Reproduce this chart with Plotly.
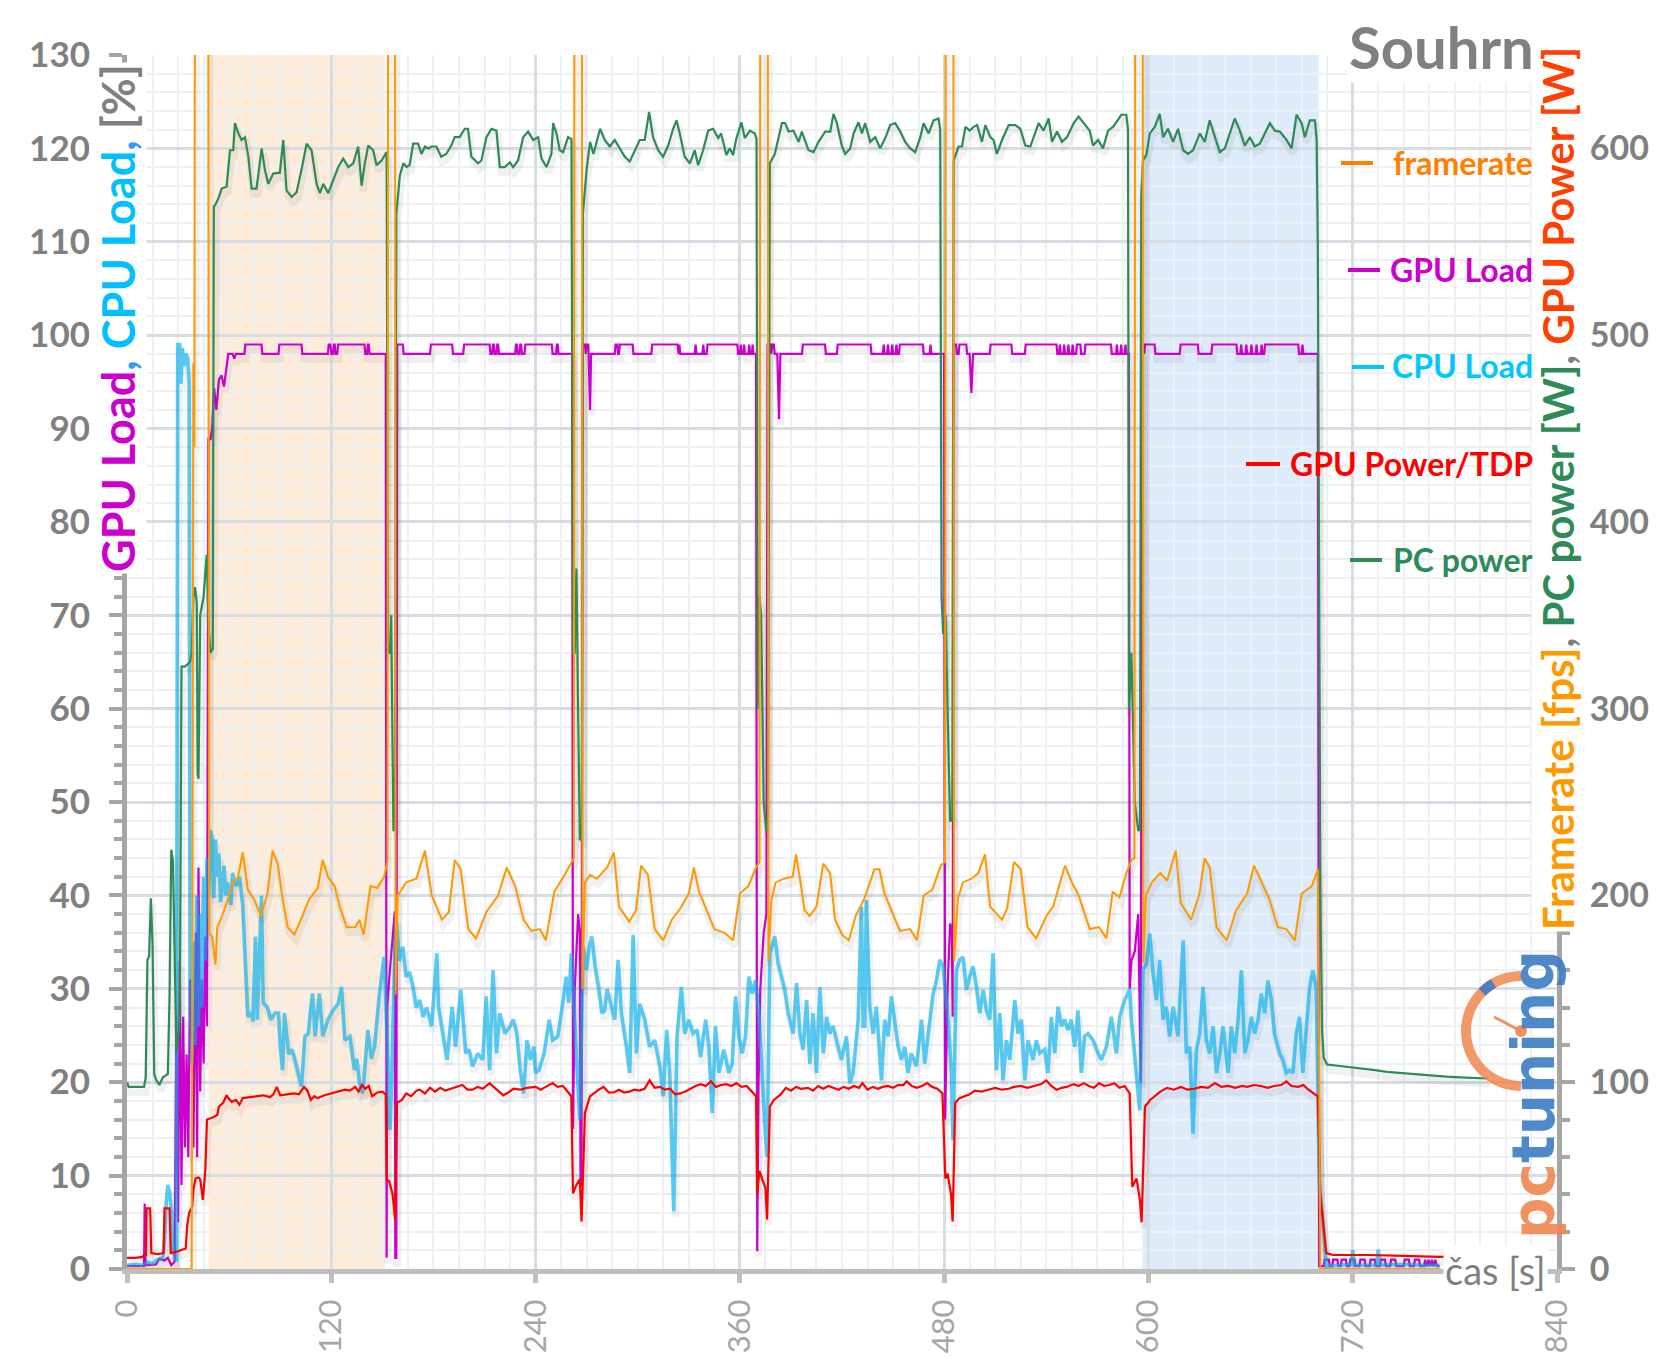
import math
import plotly.graph_objects as go

# ---------------- data (time [s], value) ----------------
framerate_points = [
    (0, 0), (37, 0), (38, 0), (39, 485), (39.6, 440), (40.3, 1000), (47.5, 1000), (48.2, 180), (50, 178),
    (52, 163), (53, 183), (55, 187), (58.6, 196), (62.6, 208), (65, 209), (68, 223), (71, 203), (74.6, 198),
    (78.6, 189), (82.5, 201), (85.5, 224), (88.5, 217), (91.4, 198), (94.4, 183), (98.3, 179), (103, 189),
    (107, 198), (112, 204), (115, 219), (118, 210), (122, 205), (125, 194), (129, 183), (134, 183), (136.5, 187),
    (139, 179), (143, 205), (147, 204), (151, 210), (153, 218), (153.6, 1000), (157.2, 1000), (157.8, 147),
    (159, 200), (164, 207), (170, 209), (175, 224), (179, 200), (185, 187), (189, 191), (192.5, 219), (196, 214),
    (200.5, 182), (205, 177), (211, 191), (218, 200), (223, 215), (228, 205), (233, 187), (237.5, 181),
    (242.5, 182), (246, 176), (251, 202), (257, 211), (261, 217), (262.5, 220), (263, 1000), (267, 1000),
    (267.6, 150), (269, 207), (272, 211), (276, 209), (279, 212), (282, 215), (286, 223), (289, 194), (295, 186),
    (299, 192), (302, 216), (306, 211), (310, 182), (315, 176), (320, 187), (325, 193), (330, 201), (333, 215),
    (336, 202), (341, 191), (345, 182), (351, 180), (356, 176), (360, 201), (365, 205), (369, 214), (371.5, 218),
    (372.3, 1000), (376.2, 1000), (376.8, 165), (378.5, 197), (381, 207), (386, 209), (391, 210), (393, 222),
    (396, 205), (398, 192), (401, 189), (405, 194), (409, 217), (413, 212), (416, 187), (420, 179), (424, 176),
    (428, 189), (433, 198), (439, 214), (442, 214), (445, 201), (449, 192), (454, 181), (460, 182), (464, 176),
    (468, 200), (473, 203), (478, 216), (480.5, 218), (481.3, 1000), (485.2, 1000), (485.8, 165), (488, 198),
    (491, 207), (496, 209), (500, 212), (504, 222), (507, 194), (514, 187), (517, 193), (521, 218), (525, 214),
    (529, 183), (534, 177), (540, 189), (544, 194), (548, 207), (551, 216), (555, 207), (559, 200), (565.5, 182),
    (571, 183), (575.3, 177), (579, 202), (583, 199), (587, 212), (590, 219), (591.8, 220), (592.5, 1000),
    (596.4, 1000), (597, 164), (598.5, 200), (602, 207), (607, 212), (611, 208), (616, 224), (619, 196),
    (625, 187), (630, 201), (633, 220), (636, 215), (640, 183), (646, 176), (651.5, 192), (658, 201), (662, 216),
    (666, 208), (671, 198), (676, 183), (681, 182), (686, 176), (690, 201), (696, 205), (699.5, 214), (701, 0),
    (771, 0),
]

gpu_load_points = [
    (0, 0.3), (10, 0.3), (10.4, 7), (10.9, 0.4), (17, 0.5), (19, 1.1), (22, 0.9), (24, 1.2), (26, 0.4), (28, 0.8),
    (29, 27), (30, 5), (31, 33), (32, 9), (33, 27), (34, 13), (35, 23), (36, 12), (37, 31), (38, 25), (39, 13),
    (40.5, 36), (41.2, 12), (42, 43), (43, 19), (44, 31), (45, 22), (46, 35.6), (47, 26), (47.8, 89), (49, 88.8),
    (50, 90), (51.2, 94.3), (52.5, 92), (54, 95.2), (55.5, 95.7), (57, 94.5), (59.5, 98), (62, 98), (63, 97.5),
    (64, 98), (69, 98), (69.5, 99), (79, 99), (79.5, 98), (89, 98), (89.5, 99), (102.5, 99), (103, 98), (118, 98),
    (118.5, 99), (119.5, 99), (120, 98), (121, 98), (121.5, 99), (122, 99), (122.5, 98), (123.5, 98), (124, 99),
    (139.5, 99), (140, 98), (141, 98), (141.5, 99), (142, 99), (142.5, 98), (152, 98), (152.5, 1.2), (152.9, 28),
    (154, 31), (156, 36), (157.3, 38.3), (157.6, 1.2), (158.2, 1.2), (158.7, 99), (162, 99), (162.5, 98),
    (178, 98), (178.5, 99), (191, 99), (191.5, 98), (197.5, 98), (198, 99), (213, 99), (213.5, 98), (214.5, 98),
    (215, 99), (215.5, 99), (216, 98), (217, 98), (217.5, 99), (218, 99), (218.5, 98), (228, 98), (228.5, 99),
    (229, 99), (229.5, 98), (230.5, 98), (231, 99), (231.5, 99), (232, 98), (233.5, 98), (234, 99), (249.5, 99),
    (250, 98), (252, 98), (252.5, 99), (253, 99), (253.5, 98), (261.5, 98), (262, 15), (263, 30), (265, 38),
    (266, 36), (266.4, 9), (267, 9), (267.6, 99), (269, 99), (269.5, 98), (270, 99), (271, 99), (272, 92),
    (272.6, 98), (286.5, 98), (287, 99), (288, 99), (288.5, 98), (289, 98), (289.5, 99), (297, 99), (297.5, 98),
    (308, 98), (308.5, 99), (323.5, 99), (324, 98), (324.5, 99), (325, 98), (333.5, 98), (334, 99), (334.5, 98),
    (338, 98), (338.5, 99), (339, 98), (340.5, 98), (341, 99), (358.5, 99), (359, 98), (360, 98), (360.5, 99),
    (361, 98), (362, 98), (362.5, 99), (363, 98), (365, 98), (365.5, 99), (366, 98), (367, 98), (367.5, 99),
    (368, 98), (369.5, 98), (370.2, 1.9), (371, 20), (372, 30), (374, 36), (375.6, 38), (376.3, 99), (378, 99),
    (378.5, 98), (379, 99), (380, 99), (380.5, 98), (382, 98), (383, 91), (383.8, 98), (396.5, 98), (397, 99),
    (410, 99), (410.5, 98), (417, 98), (417.5, 99), (436.8, 99), (437.3, 98), (444, 98), (444.5, 99), (445, 98),
    (446.5, 98), (447, 99), (447.5, 98), (449, 98), (449.5, 99), (450, 98), (451.5, 98), (452, 99), (452.5, 98),
    (453.5, 98), (454, 99), (467.5, 99), (468, 98), (471.5, 98), (472, 99), (472.5, 98), (480, 98), (480.6, 16),
    (482, 30), (483.5, 37), (484.5, 36), (485, 27), (485.6, 99), (487, 99), (487.5, 98), (488.5, 98), (489, 99),
    (493, 99), (493.5, 98), (495, 98), (496, 93.8), (497, 98), (506.8, 98), (507.3, 99), (519.5, 99), (520, 98),
    (527.4, 98), (527.9, 99), (546, 99), (546.5, 98), (547.5, 98), (548, 99), (548.5, 98), (550, 98), (550.5, 99),
    (551, 98), (552.5, 98), (553, 99), (553.5, 98), (555, 98), (555.5, 99), (556, 98), (557.5, 98), (558, 99),
    (560, 99), (560.5, 98), (562.5, 98), (563, 99), (578, 99), (578.5, 98), (581, 98), (581.5, 99), (582, 98),
    (583.5, 98), (584, 99), (584.5, 98), (586, 98), (586.5, 99), (587, 98), (588.5, 98), (589, 30), (590, 33),
    (592, 34), (594, 38), (595.5, 20), (596.2, 99), (597, 99), (597.5, 98), (598, 99), (603.6, 99), (604.1, 98),
    (618.4, 98), (618.9, 99), (629, 99), (629.5, 98), (637, 98), (637.5, 99), (651.7, 99), (652.2, 98), (654, 98),
    (654.5, 99), (655, 98), (657, 98), (657.5, 99), (658, 98), (660, 98), (660.5, 99), (661, 98), (663, 98),
    (663.5, 99), (664, 98), (666, 98), (666.5, 99), (667, 98), (668, 98), (668.5, 99), (672, 99), (688, 99),
    (688.5, 98), (690, 98), (690.5, 99), (691, 98), (699.5, 98), (700.3, 0.3), (703, 0.3), (703.5, 1), (706, 1),
    (706.5, 0.3), (708, 0.3), (708.5, 1), (711, 1), (711.5, 0.3), (713, 0.3), (713.5, 1), (716, 1), (716.5, 0.3),
    (718, 0.3), (718.5, 1), (721, 1), (721.5, 0.3), (724, 0.3), (724.5, 1), (727, 1), (727.5, 0.3), (730, 0.3),
    (730.5, 1), (733, 1), (733.5, 0.3), (736, 0.3), (736.5, 1), (739, 1), (739.5, 0.3), (742, 0.3), (742.5, 1),
    (745, 1), (745.5, 0.3), (750, 0.3), (750.5, 1), (753, 1), (753.5, 0.3), (756, 0.3), (756.5, 1), (759, 1),
    (759.5, 0.3), (762, 0.3), (762.5, 1), (763.5, 0.3), (764.5, 1), (765.5, 0.3), (766.5, 1), (767.5, 0.3),
    (768.5, 1), (769.5, 0.3), (771, 0.3),
]

cpu_load_points = [
    (0, 0.4), (5, 0.5), (9, 0.4), (12, 0.7), (15, 0.6), (18, 1), (21, 1.2), (22, 3), (23, 7), (24, 9), (25, 8.2),
    (26, 6.5), (27, 2), (29, 0.8), (29.8, 99), (31, 99), (31.7, 94.8), (32.5, 98.6), (33.7, 96.7), (34.6, 98),
    (35.6, 97.6), (36.5, 95), (37, 30), (38, 22), (39, 35), (40, 24), (41, 40), (42, 26), (43, 38), (44, 28),
    (45, 42), (46, 33), (47, 44), (48, 40), (49, 47), (50, 46), (51, 39.7), (52, 46), (53, 42), (54, 44.5),
    (55, 39.3), (57, 43.2), (58, 40), (59, 41.4), (61, 39), (62, 42.4), (64, 41), (66, 42), (68, 39.1),
    (70.2, 30), (71, 27), (73, 27.5), (74, 26.5), (75.5, 35.6), (76.5, 26.7), (77.5, 31.7), (79, 40), (80, 28.5),
    (82.5, 28), (84.5, 26.7), (87, 27.4), (89, 27.4), (90, 24), (91.4, 21.3), (92.5, 27.4), (95, 23), (97, 23.5),
    (98.6, 22.4), (100.5, 21), (102.5, 19.5), (104.5, 24.9), (106.5, 25.2), (108, 28), (109, 29.5), (110.5, 24.9),
    (113, 29.5), (115, 24.9), (118, 26.7), (121, 27.7), (124, 28.4), (126, 30.2), (128, 24.5), (131, 24.9),
    (133.6, 21.3), (135, 22.5), (136.6, 19.9), (138.5, 18.8), (141.5, 25.6), (143.5, 22.5), (145.4, 23.8),
    (148.3, 29.5), (151, 33.4), (152.5, 26.7), (154.5, 14.9), (155.5, 20), (157.3, 34.5), (158.2, 37.5),
    (160, 33), (162, 34.5), (164, 31.3), (166, 31.8), (168, 30.2), (170, 28), (172, 28.8), (174, 27), (176, 28),
    (179, 26), (182, 33.8), (183, 28.1), (186, 24.9), (188, 22.4), (191, 28.1), (193, 23.8), (196, 29.9),
    (199, 23.1), (201, 23.5), (203, 21.7), (206, 23.1), (209, 22.4), (211, 29.2), (213, 21.3), (215, 32),
    (217, 23.1), (219, 27.4), (222, 25.2), (225, 26), (227, 26.7), (229, 25.2), (231, 21.3), (233, 18.8),
    (235, 24.5), (237, 22.4), (239, 23.8), (240, 21), (242, 21.3), (245, 23.1), (248, 26.7), (250, 24.5),
    (253, 24.9), (256, 28.5), (258, 31.3), (259.5, 28.5), (261, 33.8), (263, 26.7), (266, 16), (268, 34.5),
    (270, 32), (271.5, 34.5), (273, 35.6), (275, 32.4), (277, 30.2), (279, 27.4), (280.6, 27.7), (282, 30),
    (283.6, 28.8), (286.5, 26.7), (288.5, 33.1), (290.4, 27.4), (293.4, 23.8), (295.3, 21), (297.3, 35.8),
    (299.2, 23.1), (301.2, 28.4), (304.1, 26.7), (307, 23.8), (310, 24.5), (313, 21.7), (315, 18.5), (317, 25.6),
    (318.8, 21), (321.2, 6.2), (323.1, 24.9), (325.6, 30.2), (327.6, 25.2), (330, 26.7), (332.5, 25.2),
    (335, 25.6), (336.9, 22.7), (339.9, 26.7), (341.8, 23.8), (343.8, 16.7), (345.7, 26), (347.7, 21),
    (350.6, 23.5), (353.5, 21), (355.5, 22), (357.5, 29.2), (359.4, 24.9), (361.4, 23.1), (363.3, 24.9),
    (365.3, 31.3), (367.3, 29.5), (369.2, 30.9), (371.2, 27.4), (374.5, 16), (376, 12), (377.6, 33.8),
    (380.5, 35.6), (382.5, 32.7), (384.5, 31.3), (386.4, 29.9), (388.4, 27.4), (391.3, 25.2), (393.3, 30.6),
    (395.3, 25.2), (397.2, 23.5), (399.2, 28.8), (401.1, 22), (403, 27.4), (405, 21), (407, 30.2), (409, 23.1),
    (411, 27), (412.8, 25.2), (414.8, 26), (417.7, 23.8), (419.7, 22.4), (422.6, 24.9), (424.6, 19.9),
    (426.5, 21), (429.5, 26.7), (431.4, 38.8), (432.4, 26), (433.4, 26), (434.3, 39.5), (436.3, 28.1),
    (438.3, 25.2), (440.2, 28.1), (443.2, 20.2), (445.1, 26.7), (447.1, 24.9), (449, 29.2), (451, 26.7),
    (453, 23.8), (454.9, 22.4), (456.9, 23.8), (458.8, 21), (460.8, 23.1), (463.7, 21.7), (466.7, 26.7),
    (468.6, 22), (470.6, 25.2), (473.5, 29.5), (475.5, 30.9), (477.4, 33.1), (479.4, 32.4), (482.3, 26.7),
    (484.3, 21), (485.2, 13.8), (487.2, 32), (489.2, 33.1), (491.1, 33.4), (493.1, 29.9), (495, 31.3),
    (497, 32.4), (499, 30.2), (500.9, 27.4), (502.9, 29.9), (504.8, 27.7), (506.8, 26.7), (508.7, 33.8),
    (510.7, 21.3), (512.7, 27.4), (514.6, 20.2), (516.6, 24.5), (518.5, 22.4), (521.5, 28.8), (523.4, 25.2),
    (525.4, 26.7), (527.4, 20.2), (529.3, 24.5), (532.2, 22.4), (534.2, 24.5), (536.1, 23.1), (539, 23.5),
    (541, 21), (543, 27), (545, 23.1), (546.9, 28.1), (548.9, 26), (550.8, 26.7), (552.8, 25.6), (554.7, 26.7),
    (556.7, 23.8), (558.6, 27.7), (560.6, 21), (562.5, 24.9), (564.5, 25.2), (567.5, 24.5), (570.4, 23.1),
    (572.3, 22.4), (575.3, 23.8), (578.2, 27), (581.2, 23.1), (583.1, 27), (586, 28.8), (589, 29.9), (590, 26.7),
    (592.9, 21), (594.9, 17), (596.8, 32), (598.8, 32.7), (600.8, 35.9), (602.7, 31.7), (604.7, 28.8),
    (606.6, 33.1), (608.6, 26.7), (610.5, 28.1), (612.5, 24.9), (614.5, 28.1), (617.4, 24.9), (620.4, 35.2),
    (622.3, 23.1), (624.3, 23.8), (626.2, 14.5), (628.2, 23.5), (630.1, 25.2), (632.1, 30.2), (634, 24.5),
    (636, 23.1), (638, 26), (640, 21), (642, 23.1), (643.8, 26), (646.8, 21), (648.7, 26), (650.7, 23.1),
    (652.7, 26.7), (654.6, 32), (656.6, 23.1), (658.5, 24.5), (660.5, 27), (662.4, 25.2), (664.4, 26.7),
    (666.3, 29.5), (668.3, 27.4), (670.2, 30.9), (672.2, 28.8), (674.1, 25.2), (677, 23.1), (679, 22.4),
    (681, 21), (683, 21.3), (684.9, 21), (686.8, 25.2), (688.8, 27), (690.7, 21), (692.7, 26), (694.7, 30.2),
    (696.6, 32), (698.6, 29.9), (700.5, 8.8), (702.5, 5.3), (704.4, 0.3), (715, 0.4), (719, 0.5), (720, 2),
    (721, 0.4), (734, 0.4), (735, 2.1), (736, 0.4), (750, 0.5), (760, 0.4), (771, 0.4),
]

gpu_power_points = [
    (0, 6), (5, 6), (9, 6.5), (10, 7.5), (11.2, 7.5), (11.5, 32.5), (13.6, 32.5), (14.3, 8.5), (18, 8),
    (21.5, 8.5), (22, 32.5), (25, 32.5), (25.7, 8.5), (30, 9.5), (34.5, 11), (35.4, 23.5), (36.5, 30),
    (38.3, 33.5), (39, 42.5), (40.3, 48.5), (42, 49), (43, 48), (44.6, 37), (46, 53), (47, 80), (50, 81),
    (53, 82.5), (54, 87), (56.5, 89), (58.5, 93), (60, 91), (61.5, 89.5), (64, 90.5), (66, 88), (68, 91.5),
    (72, 92), (76, 92.5), (80, 93), (84, 92), (86, 93.5), (88, 97.5), (90, 93), (94, 93.5), (98, 94), (101, 93.5),
    (104, 97.5), (106, 95.5), (108, 90.5), (110, 92.5), (112, 91.5), (116, 93), (120, 94), (124, 95), (128, 96),
    (131, 95.5), (134, 97.5), (136, 95), (138, 98.5), (140, 96.5), (142, 98), (144, 92.5), (147, 94.5), (150, 95),
    (152, 93.5), (152.6, 48), (154, 47), (156, 40), (157.5, 26.5), (158.6, 89), (161.5, 90.5), (164, 94),
    (167, 92.5), (170, 95.5), (172, 96), (175, 94), (178, 97), (181, 95), (184, 97), (187, 95.5), (190, 96.5),
    (194, 97.5), (197, 98.5), (200, 96), (203, 96), (206, 97.5), (209, 96.5), (213, 99.5), (216, 97), (219, 95),
    (221, 93), (224, 94.5), (227, 96.5), (231, 96), (235, 97), (240, 97.5), (243, 96), (246, 97.5), (250, 99.5),
    (253, 97.5), (256, 98), (258, 96), (261, 92.5), (262, 40.5), (264, 45), (266, 48), (267, 25.5), (269, 83.5),
    (272, 92.5), (275, 94.5), (277, 96), (280, 97.5), (283, 94.5), (286, 94.5), (289, 96), (292, 94.5), (295, 95),
    (298, 96), (301, 95.5), (304, 96.5), (307, 101), (310, 97), (313, 97.5), (316, 96), (319, 96.5), (322, 93.5),
    (325, 94), (328, 95), (331, 96.5), (334, 98), (337, 99), (340, 98), (343, 100.5), (346, 97.5), (349, 98.5),
    (352, 99), (355, 98), (358, 99.5), (361, 97.5), (364, 98), (367, 95), (369.5, 92.5), (370.2, 40.5),
    (371.5, 52.5), (373, 48.5), (375, 43.5), (376, 26.5), (377.6, 87), (380, 90.5), (384, 93.5), (387, 97),
    (390, 95.5), (393, 97.5), (396, 96.5), (400, 97), (403, 95.5), (406, 98), (409, 96.5), (412, 98), (415, 97),
    (418, 96), (421, 97.5), (424, 96.5), (427, 98), (430, 97), (432, 99.5), (435, 96), (438, 97.5), (441, 96.5),
    (444, 97.5), (447, 98), (450, 97), (453, 98.5), (456, 98.5), (458, 100.5), (461, 98), (464, 97), (467, 98),
    (470, 99.5), (473, 97.5), (476, 96.5), (479, 94), (480.7, 48.5), (482, 51), (484, 40.5), (485, 25.5),
    (486.5, 89), (489, 91.5), (492, 92.5), (495, 93.5), (498, 95.5), (502, 95), (506, 96), (510, 97), (514, 96),
    (518, 96.5), (521, 97.5), (525, 98), (529, 97), (533, 98), (537, 99), (540, 101), (543, 98), (546, 96),
    (549, 97), (552, 97.5), (556, 99), (559, 98), (562, 99.5), (565, 98), (568, 97), (571, 99.5), (574, 98),
    (577, 98.5), (580, 99.5), (583, 97), (586, 98), (589, 94), (590.5, 44), (593, 48.5), (595, 37), (596, 25),
    (598, 87), (601, 90.5), (604, 93), (607, 95), (611, 97), (615, 96), (619, 97.5), (623, 96), (627, 96.5),
    (631, 97.5), (635, 97), (639, 99.5), (643, 97.5), (647, 98), (651, 97), (655, 98), (658, 97.5), (662, 98.5),
    (666, 98), (670, 97), (674, 98), (678, 98.5), (681, 100.5), (684, 98), (688, 97.5), (691, 98.5), (694, 96),
    (697, 94), (699.5, 92.5), (701, 39), (702.5, 26.5), (704.5, 8.5), (708.5, 7.5), (730, 7.5), (750, 7),
    (771, 6.5), (785, 7), (799, 6.75),
]

pc_power_points = [
    (0, 100), (1, 97.5), (10, 97.5), (11, 102.5), (12, 165.5), (13, 167.5), (14, 198.5), (15, 174), (16, 104.5),
    (17, 101.5), (19, 98.5), (21, 102.5), (24, 104.5), (25, 146), (26, 224.5), (27, 218.5), (29, 116.5),
    (30, 124.5), (31, 132.5), (32, 322.5), (34, 322.5), (37, 325), (38, 330), (39, 360), (40, 365), (41, 356),
    (41.5, 265), (42, 262.5), (43, 350), (45, 360), (46.8, 382.5), (48, 343), (49, 330), (50.4, 332), (51, 569),
    (51.7, 569.5), (53.6, 573), (55.6, 578.5), (58.5, 579.5), (60.5, 599), (62.4, 599), (63.4, 613.5),
    (65.4, 608), (67.3, 604.5), (69.3, 606), (71.3, 595.5), (73.2, 578.5), (76.1, 578.5), (79.1, 600),
    (81, 588.5), (83, 581), (85.9, 586.5), (89.8, 587), (91.8, 604.5), (93.7, 577.5), (96.7, 574), (99.6, 576.5),
    (102.5, 588.5), (105.5, 602.5), (108.4, 599), (111.4, 581), (113.3, 576), (115.3, 581), (118.2, 576),
    (121.2, 583), (124.1, 590), (127, 594.5), (130, 590), (132.9, 592), (135.8, 601), (137.8, 580), (139.7, 592),
    (141.7, 601.5), (144.6, 599), (146.6, 591), (149.5, 593.5), (152.5, 598), (153.3, 330), (154.5, 330),
    (155.2, 350), (156.5, 235), (157.5, 235), (158.2, 565), (160.3, 585.5), (162.3, 592), (164.2, 590),
    (166, 591), (168.1, 602.5), (171, 602.5), (173, 597), (175, 601), (177, 600), (179, 601), (181.7, 601),
    (184.6, 595.5), (187.5, 597), (190.5, 601.5), (192.5, 606), (195.4, 606), (198.4, 610.5), (200.3, 610.5),
    (202.3, 595.5), (206.2, 592), (208.2, 593.5), (211.1, 606), (214.1, 610.5), (217, 609.5), (219, 590),
    (221.9, 590), (224.9, 592.5), (226.8, 590), (229.7, 593.5), (232.7, 606), (235.6, 609), (238.6, 604.5),
    (241.5, 606), (243.5, 594.5), (246.4, 590), (249.3, 597), (250.3, 613.5), (252.3, 608), (254.2, 599),
    (256.2, 598), (259.1, 606), (261.1, 605), (262, 330), (263, 330), (264, 375), (265, 300), (266, 230),
    (267.2, 230), (267.8, 565), (270, 588.5), (272, 603.5), (274, 597), (277.9, 610.5), (280.6, 604.5),
    (283.6, 601), (286.5, 604.5), (289.4, 600), (292.4, 595.5), (295.3, 593), (298.3, 599), (301.2, 604.5),
    (304.1, 604.5), (306.7, 619.5), (309, 606), (312, 599), (314.9, 595.5), (317.9, 601.5), (320.8, 610.5),
    (322.8, 615), (324.7, 608), (327.6, 595.5), (330.6, 592), (333.5, 599), (335.5, 591), (338.4, 599),
    (341.4, 609.5), (344.3, 610.5), (347.3, 605.5), (349, 608), (352.1, 596.5), (354.1, 600), (356, 596.5),
    (358, 605.5), (360.9, 614), (362.9, 605.5), (365.9, 609.5), (368.8, 608), (369.8, 605), (370.5, 300),
    (371.5, 360), (372.5, 350), (374, 250), (375.5, 235), (376.5, 235), (377.2, 565), (377.6, 592),
    (380.5, 597), (384.7, 613.5), (386.6, 613.5), (388.6, 609), (391.5, 609.5), (394.5, 603.5), (396.4, 609),
    (400.3, 599), (403.3, 598), (406.2, 603.5), (410.1, 609), (413.1, 609), (415, 618.5), (417, 613.5),
    (419.9, 601.5), (421.9, 597), (424.8, 600), (426.8, 608), (429.7, 614), (431.7, 608), (433.6, 613.5),
    (436.6, 603.5), (439.5, 606), (442.4, 600), (445.4, 605.5), (448.3, 612.5), (451.3, 613.5), (454.2, 609),
    (457.1, 603.5), (460.1, 600), (463, 598), (466, 606), (467.9, 613.5), (470.9, 608), (473.8, 615),
    (476.7, 616), (477.7, 610), (478.5, 360), (479.5, 340), (481, 350), (482, 300), (483.5, 240), (484.8, 240),
    (485.3, 565), (485.6, 593.5), (488.5, 601), (490.5, 601), (492.5, 611.5), (495, 609.5), (497.4, 611.5),
    (499.4, 612.5), (502.2, 603.5), (504.2, 612.5), (507.1, 606), (509, 604.5), (511, 597), (514, 604.5),
    (517.9, 612.5), (521.8, 612.5), (524.7, 610.5), (527.7, 601.5), (530.6, 601), (533, 607.5), (535.5, 613.5),
    (538.4, 609.5), (541.4, 616), (543.4, 603.5), (546.3, 609), (549.2, 603.5), (552.2, 606), (556.1, 613.5),
    (559, 617), (562, 613.5), (565.5, 609.5), (567.5, 601.5), (570.4, 604.5), (573.3, 600), (576.3, 609.5),
    (579.2, 611.5), (582.1, 615), (584.1, 618), (587, 618), (588, 610), (588.6, 300), (590, 330), (592, 250),
    (594, 235), (595, 235), (595.8, 575), (596.8, 593.5), (598.8, 596.5), (600.8, 608), (603.7, 611.5),
    (606.6, 618.5), (608.6, 606), (611.5, 610.5), (614.5, 603.5), (617.4, 610.5), (620.4, 599), (623.3, 597),
    (626.2, 599), (630.2, 608), (633.1, 603.5), (636, 615), (639, 606), (641.9, 598), (644.9, 600),
    (647.8, 608), (650.7, 616), (653.7, 609.5), (656.6, 601.5), (659.6, 606), (662.5, 601), (665.4, 602.5),
    (668.4, 608), (671.3, 613.5), (674.3, 609.5), (677.2, 609), (681.1, 604.5), (684.1, 600), (687, 618),
    (690, 613.5), (691.9, 606), (694.8, 615), (697.8, 615), (698.8, 605), (699.5, 550), (700.3, 350),
    (701, 200), (702, 127.5), (703, 113), (705, 109.5), (710, 109), (717, 108.5), (725, 107.5), (733, 106.5),
    (740, 105.5), (747, 105), (755, 104.5), (766, 103.5), (775, 103), (786, 102.5), (799.6, 102),
]

x_ticks = [0, 120, 240, 360, 480, 600, 720, 840]
y_left_ticks = [0, 10, 20, 30, 40, 50, 60, 70, 80, 90, 100, 110, 120, 130]
y_right_ticks = [0, 100, 200, 300, 400, 500, 600]
highlight_spans = [(48, 151.5, "rgba(252,229,206,0.75)"), (596.5, 700, "rgba(210,228,249,0.75)")]

legend_labels = ["framerate", "GPU Load", "CPU Load", "GPU Power/TDP", "PC power"]

# ---------------- styling ----------------
C_FPS = "#FF9900"
C_GPU = "#CC00CC"
C_CPU = "rgba(0,176,240,0.64)"
C_PWR = "#FF0000"
C_PC = "#2E8B57"
GRAY = "#808080"
AXIS = "#A6A6A6"
FONT = "Lato"

PL, PR, PT, PB = 127, 1557, 55, 1269


def px_x(px):
    return (px - PL) / (PR - PL)


def px_y(py):
    return (PB - py) / (PB - PT)


def unzip(points):
    return [p[0] for p in points], [p[1] for p in points]


fig = go.Figure()

series = [
    ("PC power", pc_power_points, C_PC, 2.2, "y2", 3.0),
    ("GPU Power/TDP", gpu_power_points, C_PWR, 2.2, "y2", 3.0),
    ("GPU Load", gpu_load_points, C_GPU, 2.2, "y", 0.6),
    ("CPU Load", cpu_load_points, C_CPU, 3.6, "y", 0.6),
    ("framerate", framerate_points, C_FPS, 2.0, "y2", 3.0),
]
# soft drop shadow under each line (same data, drawn slightly offset)
for name, pts, color, width, yax, dy in series:
    xs, ys = unzip(pts)
    fig.add_trace(go.Scatter(x=[v + 0.9 for v in xs], y=[v - dy for v in ys], mode="lines", yaxis=yax,
                             line=dict(color="rgba(60,60,60,0.07)", width=7), hoverinfo="skip",
                             showlegend=False))
for name, pts, color, width, yax, dy in series:
    xs, ys = unzip(pts)
    fig.add_trace(go.Scatter(x=xs, y=ys, name=name, mode="lines", yaxis=yax,
                             line=dict(color=color, width=width), showlegend=False))

shapes = []
for x0, x1, col in highlight_spans:
    shapes.append(dict(type="rect", xref="x", yref="paper", x0=x0, x1=x1, y0=0, y1=1,
                       fillcolor=col, line=dict(width=0), layer="below"))

annotations = []

# axis titles first (their white boxes must sit under the legend texts)
left_title = ('<b><span style="color:#CC00CC">GPU Load</span><span style="color:#3399FF">, </span>'
              '<span style="color:#00C0FF">CPU Load</span><span style="color:#3399FF">, </span>'
              '<span style="color:#808080">[%]</span></b>')
annotations.append(dict(xref="paper", yref="paper", x=px_x(118), y=px_y(318), xanchor="center",
                        yanchor="middle", showarrow=False, text=left_title, textangle=-90,
                        bgcolor="white", font=dict(family=FONT, size=45)))

right_title = ('<b><span style="color:#FF9900">Framerate [fps]</span><span style="color:#808080">, </span>'
               '<span style="color:#2E8B57">PC power [W]</span><span style="color:#808080">, </span>'
               '<span style="color:#FF4000">GPU Power [W]</span></b>')
annotations.append(dict(xref="paper", yref="paper", x=px_x(1558), y=px_y(489), xanchor="center",
                        yanchor="middle", showarrow=False, text=right_title, textangle=-90,
                        bgcolor="white", font=dict(family=FONT, size=42)))

# legend (drawn as annotations + short line segments)
legend_rows = [
    # label, text colour, line colour, y px, line x0 px, line x1 px
    (legend_labels[0], "#FF8000", "#FF8000", 162, 1341, 1373),
    (legend_labels[1], "#CC00CC", "#CC00CC", 269, 1348, 1380),
    (legend_labels[2], "#00C8FF", "#00C8FF", 366, 1352, 1384),
    (legend_labels[3], "#FF0000", "#FF0000", 463, 1246, 1280),
    (legend_labels[4], "#2E8B57", "#2E8B57", 559, 1350, 1382),
]
for label, tcol, lcol, ypx, lx0, lx1 in legend_rows:
    shapes.append(dict(type="line", xref="paper", yref="paper", x0=px_x(lx0), x1=px_x(lx1),
                       y0=px_y(ypx + 1), y1=px_y(ypx + 1), line=dict(color=lcol, width=4)))
    annotations.append(dict(xref="paper", yref="paper", x=px_x(1535), y=px_y(ypx), xanchor="right",
                            yanchor="middle", showarrow=False, text="<b>%s</b>" % label,
                            font=dict(family=FONT, size=32, color=tcol)))

# title
annotations.append(dict(xref="paper", yref="paper", x=px_x(1536), y=px_y(46), xanchor="right",
                        yanchor="middle", showarrow=False, text="<b>Souhrn</b>", bgcolor="white",
                        font=dict(family=FONT, size=58, color=GRAY)))

# x axis label
annotations.append(dict(xref="paper", yref="paper", x=px_x(1548), y=px_y(1270), xanchor="right",
                        yanchor="middle", showarrow=False, text="čas [s]", bgcolor="white",
                        font=dict(family=FONT, size=38, color=GRAY)))

# pctuning logo
cx, cy, r = 1521, 1031, 55
arc = []
for i in range(0, 37):
    a = math.radians(90 + i * 5)
    arc.append((px_x(cx + r * math.cos(a)), px_y(cy - r * math.sin(a))))
path = "M " + " L ".join("%.5f,%.5f" % p for p in arc)
shapes.append(dict(type="path", xref="paper", yref="paper", path=path,
                   line=dict(color="rgba(240,135,80,0.85)", width=10)))
blue = []
for i in range(0, 4):
    a = math.radians(120 + i * 5)
    blue.append((px_x(cx + r * math.cos(a)), px_y(cy - r * math.sin(a))))
shapes.append(dict(type="path", xref="paper", yref="paper",
                   path="M " + " L ".join("%.5f,%.5f" % p for p in blue),
                   line=dict(color="rgba(60,125,196,0.9)", width=10)))
shapes.append(dict(type="line", xref="paper", yref="paper", x0=px_x(cx), y0=px_y(cy),
                   x1=px_x(1494), y1=px_y(1017), line=dict(color="rgba(240,135,80,0.9)", width=3)))
shapes.append(dict(type="circle", xref="paper", yref="paper", x0=px_x(cx - 6), x1=px_x(cx + 6),
                   y0=px_y(cy + 6), y1=px_y(cy - 6), fillcolor="rgba(240,135,80,0.9)", line=dict(width=0)))
annotations.append(dict(xref="paper", yref="paper", x=px_x(1534), y=px_y(1095), xanchor="center",
                        yanchor="middle", showarrow=False, textangle=-90, opacity=0.9,
                        text='<b><span style="color:#F0874F">pc</span><span style="color:#3C7DC4">tuning</span></b>',
                        font=dict(family="DejaVu Sans", size=58)))

fig.update_layout(
    width=1658, height=1361,
    margin=dict(l=PL, r=1658 - PR, t=PT, b=1361 - PB, autoexpand=False),
    paper_bgcolor="white", plot_bgcolor="white",
    showlegend=False,
    shapes=shapes, annotations=annotations,
    xaxis=dict(range=[0, 840], tickvals=x_ticks, tickangle=-90, showgrid=True, automargin=False,
               gridcolor="#D8DDE5", gridwidth=2.5, zeroline=False,
               showline=True, linecolor="#BFBFBF", linewidth=5,
               ticks="outside", ticklen=9, tickwidth=5, tickcolor="#BFBFBF",
               tickfont=dict(family=FONT, size=31, color="#A6A6A6"), ticklabelstandoff=4,
               minor=dict(dtick=15, showgrid=True, gridcolor="#EDF0F4", gridwidth=2, ticks="")),
    yaxis=dict(range=[0, 130], tickvals=y_left_ticks, showgrid=True, gridcolor="#D8DDE5", automargin=False,
               gridwidth=2.5, zeroline=False, showline=True, linecolor=AXIS, linewidth=5,
               ticks="outside", ticklen=13, tickwidth=4, tickcolor=AXIS,
               tickfont=dict(family=FONT, size=35, color=GRAY, weight="bold"), ticklabelstandoff=12,
               minor=dict(dtick=2, showgrid=True, gridcolor="#EDF0F4", gridwidth=2,
                          ticks="outside", ticklen=8, tickwidth=4, tickcolor=AXIS)),
    yaxis2=dict(range=[0, 650], overlaying="y", side="right", tickvals=y_right_ticks, automargin=False,
                showgrid=False, zeroline=False, showline=True, linecolor=AXIS, linewidth=5,
                ticks="outside", ticklen=13, tickwidth=4, tickcolor=AXIS,
                tickfont=dict(family=FONT, size=34, color=GRAY, weight="bold"), ticklabelstandoff=8,
                minor=dict(dtick=20, showgrid=False, ticks="outside", ticklen=8, tickwidth=4, tickcolor=AXIS)),
)

fig.write_html("out.html")
